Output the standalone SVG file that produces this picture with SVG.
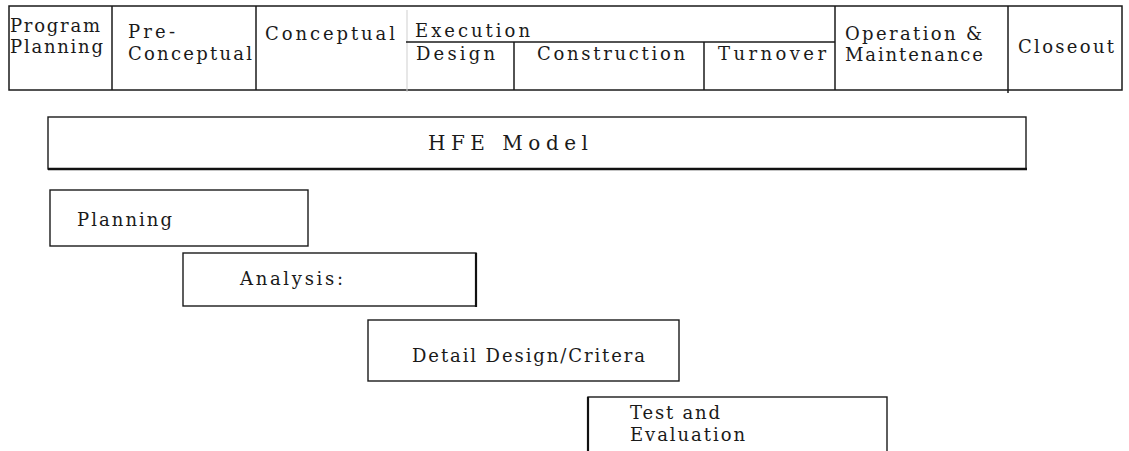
<svg xmlns="http://www.w3.org/2000/svg" width="1129" height="451" viewBox="0 0 1129 451">
<style>
text{font-family:"DejaVu Serif","Liberation Serif",serif;font-size:18px;fill:#1a1a1a}
.ln{stroke:#1a1a1a;stroke-width:1.5;fill:none}
.box{stroke:#1a1a1a;stroke-width:1.4;fill:#fff}
.faint{stroke:#cfcfcf;stroke-width:1}
</style>
<rect width="1129" height="451" fill="#fff"/>
<g id="phase-table">
<rect class="ln" x="9" y="6" width="1113" height="84"/>
<line class="ln" x1="112" y1="6" x2="112" y2="90"/>
<line class="ln" x1="256" y1="6" x2="256" y2="90"/>
<line class="faint" x1="407" y1="10" x2="407" y2="92"/>
<line class="ln" x1="406" y1="42" x2="835" y2="42"/>
<line class="ln" x1="514" y1="42" x2="514" y2="90"/>
<line class="ln" x1="704" y1="42" x2="704" y2="90"/>
<line class="ln" x1="835" y1="6" x2="835" y2="90"/>
<line class="ln" x1="1008" y1="6" x2="1008" y2="93"/>
<text x="10" y="32" textLength="90" lengthAdjust="spacing">Program</text>
<text x="10" y="53" textLength="93" lengthAdjust="spacing">Planning</text>
<text x="128" y="38" textLength="47" lengthAdjust="spacing">Pre-</text>
<text x="128" y="60" textLength="124" lengthAdjust="spacing">Conceptual</text>
<text x="265" y="40" textLength="130" lengthAdjust="spacing">Conceptual</text>
<text x="415" y="37" textLength="115" lengthAdjust="spacing">Execution</text>
<text x="416" y="60" textLength="79" lengthAdjust="spacing">Design</text>
<text x="537" y="60" textLength="148" lengthAdjust="spacing">Construction</text>
<text x="718" y="60" textLength="108" lengthAdjust="spacing">Turnover</text>
<text x="845" y="40" textLength="137" lengthAdjust="spacing">Operation &amp;</text>
<text x="845" y="61" textLength="138" lengthAdjust="spacing">Maintenance</text>
<text x="1018" y="53" textLength="96" lengthAdjust="spacing">Closeout</text>
</g>
<g id="hfe-model">
<rect class="box" x="48" y="117" width="978" height="52"/>
<line x1="48" y1="169" x2="1027" y2="169" stroke="#111" stroke-width="2.5"/>
<text x="428" y="150" textLength="160" lengthAdjust="spacing" style="font-size:20px">HFE Model</text>
</g>
<g id="planning">
<rect class="box" x="50" y="190" width="258" height="56"/>
<text x="77" y="226" textLength="95" lengthAdjust="spacing">Planning</text>
</g>
<g id="analysis">
<rect class="box" x="183" y="253" width="293" height="53"/>
<line x1="476" y1="253" x2="476" y2="307" stroke="#111" stroke-width="2.2"/>
<text x="240" y="285" textLength="103" lengthAdjust="spacing">Analysis:</text>
</g>
<g id="detail-design">
<rect class="box" x="368" y="320" width="311" height="61"/>
<text x="412" y="362" textLength="233" lengthAdjust="spacing">Detail Design/Critera</text>
</g>
<g id="test-evaluation">
<rect class="box" x="588" y="397" width="299" height="60"/>
<line x1="588" y1="397" x2="588" y2="451" stroke="#111" stroke-width="2.2"/>
<text x="630" y="419" textLength="90" lengthAdjust="spacing">Test and</text>
<text x="630" y="441" textLength="115" lengthAdjust="spacing">Evaluation</text>
</g>
<g id="connectors"></g>
</svg>
